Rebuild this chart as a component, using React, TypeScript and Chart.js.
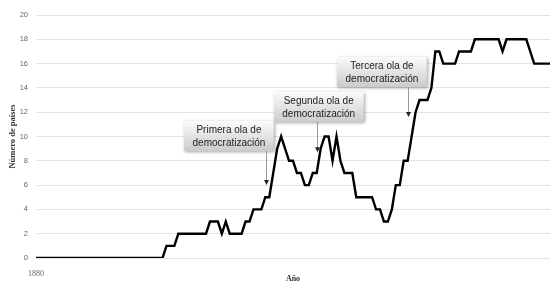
import { useEffect, useRef } from 'react';
import { Chart, registerables } from 'chart.js';

Chart.register(...registerables);

const years: string[] = [
  '1880','1881','1882','1883','1884','1885','1886','1887','1888','1889',
  '1890','1891','1892','1893','1894','1895','1896','1897','1898','1899',
  '1900','1901','1902','1903','1904','1905','1906','1907','1908','1909',
  '1910','1911','1912','1913','1914','1915','1916','1917','1918','1919',
  '1920','1921','1922','1923','1924','1925','1926','1927','1928','1929',
  '1930','1931','1932','1933','1934','1935','1936','1937','1938','1939',
  '1940','1941','1942','1943','1944','1945','1946','1947','1948','1949',
  '1950','1951','1952','1953','1954','1955','1956','1957','1958','1959',
  '1960','1961','1962','1963','1964','1965','1966','1967','1968','1969',
  '1970','1971','1972','1973','1974','1975','1976','1977','1978','1979',
  '1980','1981','1982','1983','1984','1985','1986','1987','1988','1989',
  '1990','1991','1992','1993','1994','1995','1996','1997','1998','1999',
  '2000','2001','2002','2003','2004','2005','2006','2007','2008','2009',
  '2010',
];

const countries: number[] = [
  0, 0, 0, 0, 0, 0, 0, 0, 0, 0,
  0, 0, 0, 0, 0, 0, 0, 0, 0, 0,
  0, 0, 0, 0, 0, 0, 0, 0, 0, 0,
  0, 0, 0, 1, 1, 1, 2, 2, 2, 2,
  2, 2, 2, 2, 3, 3, 3, 2, 3, 2,
  2, 2, 2, 3, 3, 4, 4, 4, 5, 5,
  7, 9, 10, 9, 8, 8, 7, 7, 6, 6,
  7, 7, 9, 10, 10, 8, 10, 8, 7, 7,
  7, 5, 5, 5, 5, 5, 4, 4, 3, 3,
  4, 6, 6, 8, 8, 10, 12, 13, 13, 13,
  14, 17, 17, 16, 16, 16, 16, 17, 17, 17,
  17, 18, 18, 18, 18, 18, 18, 18, 17, 18,
  18, 18, 18, 18, 18, 17, 16, 16, 16, 16,
  16,
];

const yTicks = { min: 0, max: 20, step: 2 };

// Annotation content (text + anchor positions in data units: year, number of countries)
const waveLabels: string[][] = [
  ['Primera ola de', 'democratización'],
  ['Segunda ola de', 'democratización'],
  ['Tercera ola de', 'democratización'],
];
const waveBoxYear: number[] = [1928.8, 1951.5, 1967.5];
const waveBoxValue: number[] = [10.05, 12.4, 15.3];
const waveArrowYear: number[] = [1938.1, 1951.1, 1974.2];
const waveArrowValue: number[] = [6.0, 8.7, 11.6];

const firstYear = Number(years[0]);

const annotationPlugin = {
  id: 'waves',
  afterDatasetsDraw(chart: any) {
    const { ctx, scales } = chart;
    const x = scales.x;
    const y = scales.y;
    ctx.save();
    ctx.font = '10px "Liberation Sans", Arial, sans-serif';
    waveLabels.forEach((lines, i) => {
      const cx = x.getPixelForValue(waveBoxYear[i] - firstYear);
      const cy = y.getPixelForValue(waveBoxValue[i]);
      const w = Math.max(...lines.map((l) => ctx.measureText(l).width)) + 17;
      const h = 30;
      const left = Math.round(cx - w / 2);
      const top = Math.round(cy - h / 2);
      ctx.save();
      ctx.shadowColor = 'rgba(0,0,0,0.35)';
      ctx.shadowBlur = 3;
      ctx.shadowOffsetX = 1;
      ctx.shadowOffsetY = 1;
      const g = ctx.createLinearGradient(0, top, 0, top + h);
      g.addColorStop(0, '#fbfbfb');
      g.addColorStop(1, '#cbcbcb');
      ctx.fillStyle = g;
      ctx.fillRect(left, top, w, h);
      ctx.restore();
      ctx.fillStyle = '#222';
      ctx.textAlign = 'center';
      ctx.textBaseline = 'middle';
      ctx.fillText(lines[0], cx, cy - 6);
      ctx.fillText(lines[1], cx, cy + 7);
      const ax = Math.round(x.getPixelForValue(waveArrowYear[i] - firstYear)) + 0.5;
      const ay = y.getPixelForValue(waveArrowValue[i]);
      ctx.strokeStyle = '#9a9a9a';
      ctx.lineWidth = 1;
      ctx.beginPath();
      ctx.moveTo(ax, top + h);
      ctx.lineTo(ax, ay - 4);
      ctx.stroke();
      ctx.fillStyle = '#222';
      ctx.beginPath();
      ctx.moveTo(ax, ay);
      ctx.lineTo(ax - 2.5, ay - 5);
      ctx.lineTo(ax + 2.5, ay - 5);
      ctx.closePath();
      ctx.fill();
    });
    ctx.restore();
  },
};

export default function App() {
  const ref = useRef<HTMLCanvasElement | null>(null);
  useEffect(() => {
    document.body.style.margin = '0';
    if (!ref.current) return;
    const chart = new Chart(ref.current, {
      type: 'line',
      data: {
        labels: years,
        datasets: [
          {
            data: countries,
            borderColor: '#000',
            borderWidth: 2.4,
            pointRadius: 0,
            tension: 0,
            fill: false,
          },
        ],
      },
      options: {
        animation: false,
        responsive: false,
        maintainAspectRatio: false,
        layout: { padding: { top: 15, right: 10, left: 0, bottom: 0 } },
        plugins: { legend: { display: false }, tooltip: { enabled: false } },
        scales: {
          x: {
            type: 'category',
            offset: false,
            grid: { display: false },
            border: { display: false },
            ticks: {
              autoSkip: false,
              maxRotation: 0,
              minRotation: 0,
              padding: 3,
              font: { family: '"Liberation Serif", serif', size: 8 },
              color: '#666',
              callback: (_v: any, i: number) => (i === 0 ? years[0] : ''),
            },
            title: {
              display: true,
              text: 'Año',
              font: { family: '"Liberation Serif", serif', size: 8, weight: 'bold' },
              color: '#333',
              padding: { top: 0, bottom: 11 },
            },
            afterFit: (s: any) => {
              s.height = 37;
            },
          },
          y: {
            min: yTicks.min,
            max: yTicks.max,
            ticks: {
              stepSize: yTicks.step,
              padding: 8,
              font: { family: '"Liberation Sans", sans-serif', size: 7.5 },
              color: '#666',
            },
            grid: { color: '#e3e3e3', drawTicks: false, lineWidth: 1 },
            border: { display: false },
            title: {
              display: true,
              text: 'Número de países',
              font: { family: '"Liberation Serif", serif', size: 8.5, weight: 'bold' },
              color: '#333',
              padding: { top: 8, bottom: 0 },
            },
            afterFit: (s: any) => {
              s.width = 36;
            },
          },
        },
      } as any,
      plugins: [annotationPlugin],
    });
    return () => chart.destroy();
  }, []);
  return (
    <div style={{ position: 'absolute', left: 0, top: 0, width: 560, height: 295, background: '#fff' }}>
      <canvas ref={ref} width={560} height={295} style={{ width: 560, height: 295 }} />
    </div>
  );
}
